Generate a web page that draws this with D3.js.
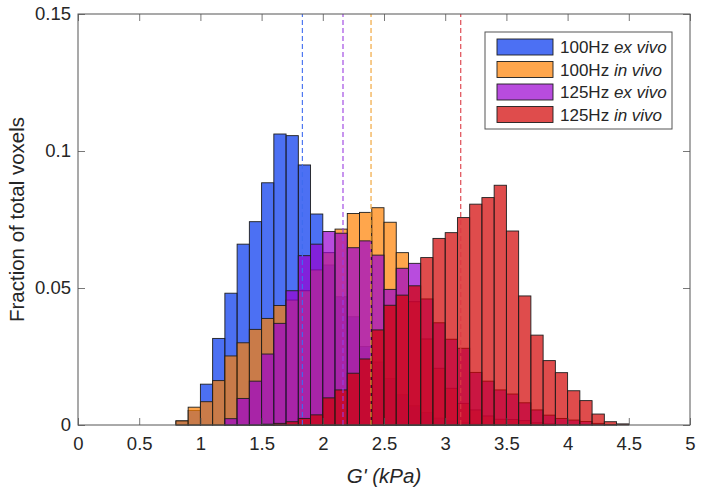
<!DOCTYPE html>
<html>
<head>
<meta charset="utf-8">
<script src="https://cdn.jsdelivr.net/npm/d3@7"></script>
<style>
  html, body { margin: 0; padding: 0; background: #fff; }
  svg { display: block; font-family: "Liberation Sans", Arial, Helvetica, sans-serif; }
</style>
</head>
<body>
<svg id="chart" width="703" height="492"></svg>
<script>
// ---------------- DATA ----------------
const binStarts = [0.8,0.9,1.0,1.1,1.2,1.3,1.4,1.5,1.6,1.7,1.8,1.9,2.0,2.1,2.2,2.3,2.4,2.5,2.6,2.7,
                   2.8,2.9,3.0,3.1,3.2,3.3,3.4,3.5,3.6,3.7,3.8,3.9,4.0,4.1,4.2,4.3,4.4];
const binWidth = 0.1;

const seriesNames = ["100Hz ex vivo", "100Hz in vivo", "125Hz ex vivo", "125Hz in vivo"];

const exVivo100 = [0.0015,0.0053,0.0149,0.0316,0.0481,0.0660,0.0742,0.0884,0.1062,0.1056,
                   0.0949,0.0770,0.0584,0.0468,0.0395,0.0286,0.0230,0.0170,0.0110,0.0070,
                   0.0045,0.0025,0.0015,0.0008,0.0004,0,0,0,0,0,0,0,0,0,0,0,0];
const inVivo100 = [0.0015,0.0065,0.0085,0.0162,0.0252,0.0300,0.0349,0.0389,0.0436,0.0456,
                   0.0490,0.0566,0.0629,0.0715,0.0772,0.0776,0.0793,0.0740,0.0629,0.0450,
                   0.0314,0.0207,0.0134,0.0079,0.0055,0.0033,0.0021,0.0020,0.0016,0.0008,
                   0.0004,0,0,0,0,0,0];
const exVivo125 = [0,0,0,0,0.0023,0.0097,0.0160,0.0259,0.0371,0.0490,
                   0.0618,0.0660,0.0706,0.0700,0.0647,0.0672,0.0620,0.0495,0.0572,0.0590,
                   0.0460,0.0373,0.0313,0.0280,0.0192,0.0160,0.0128,0.0113,0.0081,0.0055,
                   0.0036,0.0024,0.0018,0.0013,0.0006,0.0002,0];
const inVivo125 = [0,0,0,0,0,0,0,0.0003,0.0006,0.0012,
                   0.0024,0.0037,0.0099,0.0128,0.0189,0.0241,0.0347,0.0437,0.0474,0.0508,
                   0.0611,0.0681,0.0702,0.0757,0.0806,0.0830,0.0875,0.0708,0.0471,0.0328,
                   0.0235,0.0191,0.0125,0.0089,0.0040,0.0012,0.0004];

const meanValues = [1.833, 2.394, 2.165, 3.127];

const xTicks = [0,0.5,1,1.5,2,2.5,3,3.5,4,4.5,5];
const yTicks = [0,0.05,0.1,0.15];
const xLabelParts = ["G' (kPa)"];
const yLabel = "Fraction of total voxels";

// ---------------- STYLE ----------------
const fillColors = ["rgb(0,51,238)", "rgb(255,128,0)", "rgb(154,0,208)", "rgb(210,0,0)"];
const lineColors = ["#3f6cf0", "#f0a030", "#9a3ee0", "#dc3c46"];
const faceAlpha = 0.7;

const svg = d3.select("#chart");
const margin = {left: 78, right: 690, top: 14, bottom: 425};
const x = d3.scaleLinear().domain([0, 5]).range([margin.left, margin.right]);
const y = d3.scaleLinear().domain([0, 0.15]).range([margin.bottom, margin.top]);

const allSeries = [exVivo100, inVivo100, exVivo125, inVivo125];

// bars
allSeries.forEach((vals, si) => {
  const data = binStarts.map((b, i) => ({b, v: vals[i]})).filter(d => d.v > 0);
  svg.append("g").selectAll("rect").data(data).join("rect")
    .attr("x", d => x(d.b))
    .attr("width", d => x(d.b + binWidth) - x(d.b))
    .attr("y", d => y(d.v))
    .attr("height", d => y(0) - y(d.v))
    .attr("fill", fillColors[si])
    .attr("fill-opacity", faceAlpha)
    .attr("stroke", "#1e1e1e")
    .attr("stroke-width", 0.9);
});

// mean dashed lines
svg.append("g").selectAll("line").data(meanValues).join("line")
  .attr("x1", d => x(d)).attr("x2", d => x(d))
  .attr("y1", y(0)).attr("y2", y(0.15))
  .attr("stroke", (d, i) => lineColors[i])
  .attr("stroke-width", 1.1)
  .attr("stroke-dasharray", "5,3");

// axes
const tickColor = "#262626";
const fontTick = "18.5px";
const gx = svg.append("g").attr("transform", `translate(0,${margin.bottom})`)
  .call(d3.axisBottom(x).tickValues(xTicks).tickSize(-7).tickPadding(12).tickFormat(d3.format("~g")));
const gxt = svg.append("g").attr("transform", `translate(0,${margin.top})`)
  .call(d3.axisTop(x).tickValues(xTicks).tickSize(-7).tickFormat(""));
const gy = svg.append("g").attr("transform", `translate(${margin.left},0)`)
  .call(d3.axisLeft(y).tickValues(yTicks).tickSize(-7).tickPadding(7).tickFormat(d3.format("~g")));
const gyr = svg.append("g").attr("transform", `translate(${margin.right},0)`)
  .call(d3.axisRight(y).tickValues(yTicks).tickSize(-7).tickFormat(""));

[gx, gxt, gy, gyr].forEach(g => {
  g.select(".domain").remove();
  g.selectAll(".tick line").attr("stroke", "#555").attr("stroke-width", 0.8);
  g.selectAll(".tick text").attr("fill", tickColor).style("font-size", fontTick)
    .style("font-family", '"Liberation Sans", Arial, Helvetica, sans-serif');
});

// box
svg.append("rect")
  .attr("x", margin.left).attr("y", margin.top)
  .attr("width", margin.right - margin.left).attr("height", margin.bottom - margin.top)
  .attr("fill", "none").attr("stroke", "#555").attr("stroke-width", 1);

// labels
svg.append("text")
  .attr("transform", `translate(24,${(margin.top + margin.bottom) / 2}) rotate(-90)`)
  .attr("text-anchor", "middle")
  .attr("fill", tickColor)
  .style("font-size", "20.5px")
  .text(yLabel);

svg.append("text")
  .attr("x", (margin.left + margin.right) / 2).attr("y", 483)
  .attr("text-anchor", "middle")
  .attr("fill", tickColor)
  .style("font-size", "20.5px")
  .style("font-style", "italic")
  .text(xLabelParts[0]);

// legend
const lg = svg.append("g");
lg.append("rect").attr("x", 485).attr("y", 32).attr("width", 187).attr("height", 97)
  .attr("fill", "#fff").attr("stroke", "#555").attr("stroke-width", 1);
const rowY = [47, 69.5, 92, 114.5];
seriesNames.forEach((name, i) => {
  lg.append("rect").attr("x", 497).attr("y", rowY[i] - 8).attr("width", 56).attr("height", 16)
    .attr("fill", fillColors[i]).attr("fill-opacity", faceAlpha)
    .attr("stroke", "#1e1e1e").attr("stroke-width", 0.9);
  const parts = name.split(" ");
  const t = lg.append("text").attr("x", 560).attr("y", rowY[i] + 6)
    .attr("fill", tickColor).style("font-size", "17px");
  t.append("tspan").text(parts[0] + " ");
  t.append("tspan").style("font-style", "italic").text(parts.slice(1).join(" "));
});
</script>
</body>
</html>
